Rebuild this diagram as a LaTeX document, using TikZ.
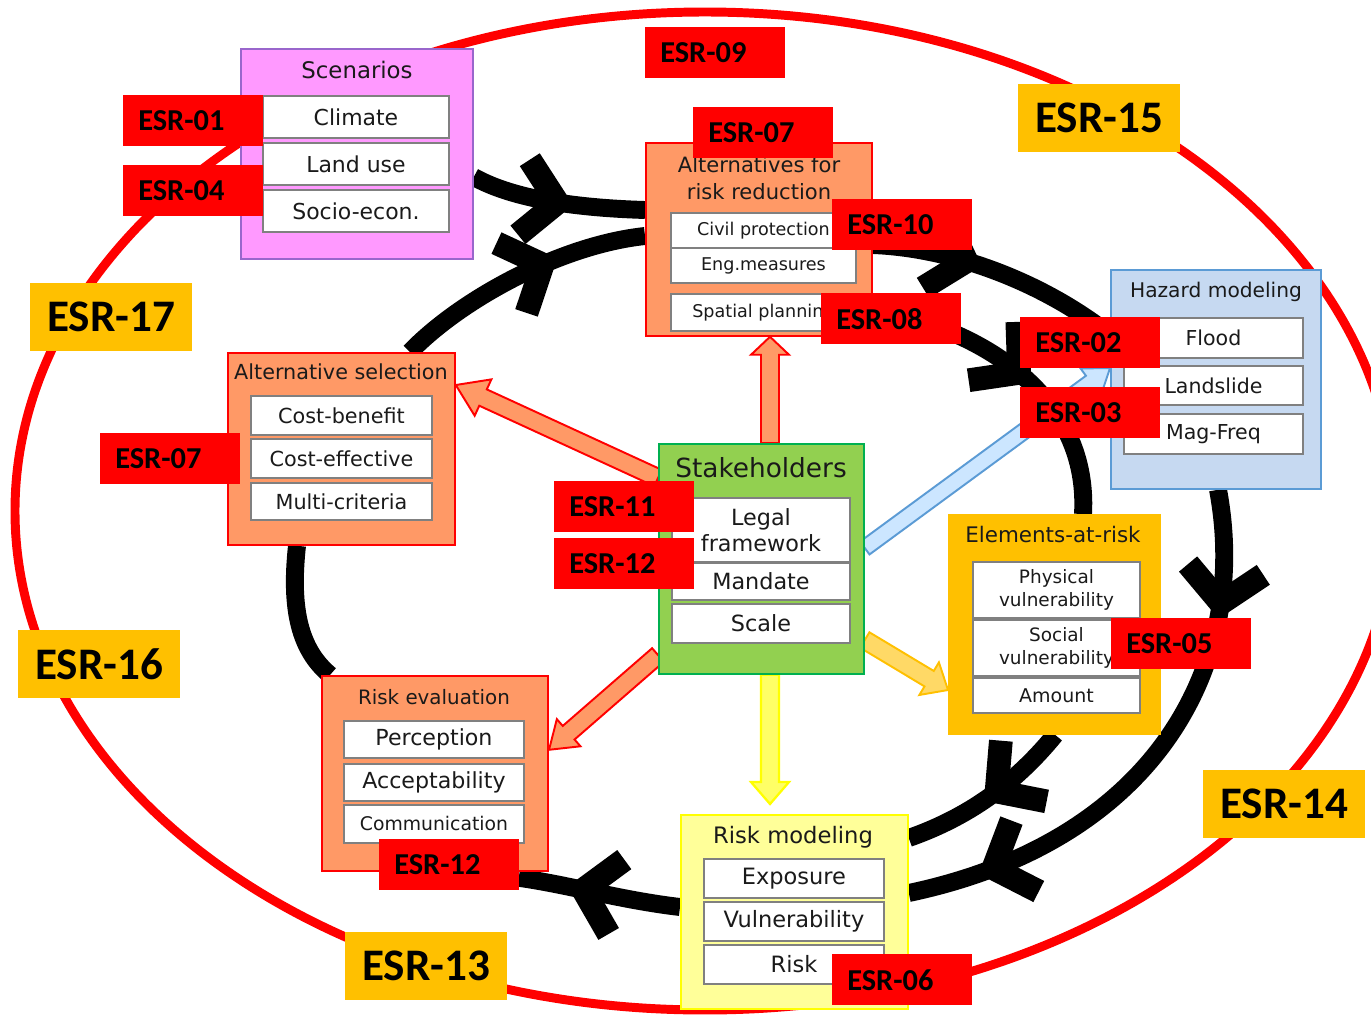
\documentclass[tikz,border=0pt]{standalone}
\usepackage{fontspec}
\setmainfont{DejaVu Sans}
\newfontfamily\esrfont{Carlito}
\usetikzlibrary{decorations.markings,calc}
\pgfdeclarelayer{back}
\pgfsetlayers{back,main}

\definecolor{esrred}{HTML}{FF0000}
\definecolor{esrgold}{HTML}{FFC000}
\definecolor{scenfill}{HTML}{FF99FF}
\definecolor{scendraw}{HTML}{9966CC}
\definecolor{boxorange}{HTML}{FF9966}
\definecolor{hzfill}{HTML}{C6D9F1}
\definecolor{hzdraw}{HTML}{5B9BD5}
\definecolor{stkfill}{HTML}{92D050}
\definecolor{stkdraw}{HTML}{00B050}
\definecolor{rmfill}{HTML}{FFFF99}
\definecolor{rmdraw}{HTML}{FFFF00}
\definecolor{subdraw}{HTML}{808080}
\definecolor{txt}{HTML}{1A1A1A}
\definecolor{bluefill}{HTML}{CCE6FF}
\definecolor{goldlight}{HTML}{FFD966}
\definecolor{yelfill}{HTML}{FFFF66}

% one pixel of the layout grid
\def\upx{0.02cm}
\newcommand\fs[2]{\fontsize{#1pt}{#2pt}\selectfont}

% block arrow from #1 to #2, style #3, shaft half width #4, head half width #5, head length #6 (grid units)
\newcommand\blockarrow[6]{%
  \path let \p1=(#1), \p2=(#2) in
    \pgfextra{\pgfmathsetmacro\baang{atan2(\y2-\y1,\x2-\x1)}%
              \pgfmathsetmacro\balen{veclen(\x2-\x1,\y2-\y1)}%
              \global\let\baangG\baang \global\let\balenG\balen};
  \begin{scope}[shift={(#1)}, rotate=\baangG]
    \draw[#3, line join=miter] (0pt,{#4*\upx}) -- ({\balenG*1pt-#6*\upx},{#4*\upx})
      -- ({\balenG*1pt-#6*\upx},{#5*\upx}) -- ({\balenG*1pt},0pt)
      -- ({\balenG*1pt-#6*\upx},{-#5*\upx}) -- ({\balenG*1pt-#6*\upx},{-#4*\upx})
      -- (0pt,{-#4*\upx}) -- cycle;
  \end{scope}}

\tikzset{
  panel/.style={draw, line width=1pt, anchor=north west, inner sep=0pt},
  subcell/.style={draw=subdraw, fill=white, line width=1.1pt, anchor=north west,
    inner sep=0pt, align=center, text=txt},
  ttl/.style={text=txt, inner sep=0pt, align=center},
  esr/.style={fill=esrred, anchor=north west, inner xsep=8.5pt, inner ysep=0pt,
    text width=62.4pt, minimum height=28.9pt, align=left,
    font=\esrfont\bfseries\fs{17.3}{20}},
  esrbig/.style={fill=esrgold, anchor=north west, inner sep=0pt,
    minimum width=91.8pt, minimum height=38.6pt,
    font=\esrfont\bfseries\fs{25.7}{30}},
  ringline/.style={line width=10.2pt, line cap=butt},
  chev/.style={line width=13.5pt, line join=miter, line cap=butt},
  chevat/.style={postaction={decorate, decoration={markings,
    mark=at position #1 with {\draw[chev] (-34,38) -- (0,0) -- (-34,-38);}}}},
  orarrow/.style={fill=boxorange, draw=esrred, line width=1.1pt},
  bluearrow/.style={fill=bluefill, draw=hzdraw, line width=1.1pt},
  goldarrow/.style={fill=goldlight, draw=esrgold, line width=1.1pt},
  yelarrow/.style={fill=yelfill, draw=rmdraw, line width=1.3pt},
}

\begin{document}
\begin{tikzpicture}[x=0.02cm, y=-0.02cm]
\useasboundingbox (0,0) rectangle (1371,1017);

% ---------- Scenarios ----------
\node[panel, fill=scenfill, draw=scendraw, minimum width={232*\upx}, minimum height={210*\upx}] (scen) at (240,48) {};
\node[ttl, font=\fs{13}{16}] (scenT) at (357,70) {Scenarios};
\node[subcell, minimum width={186*\upx}, minimum height={42*\upx}, font=\fs{12.5}{15}] (scen1) at (262,95) {Climate};
\node[subcell, minimum width={186*\upx}, minimum height={42*\upx}, font=\fs{12.5}{15}] (scen2) at (262,142) {Land use};
\node[subcell, minimum width={186*\upx}, minimum height={42*\upx}, font=\fs{12.5}{15}] (scen3) at (262,189) {Socio-econ.};

% ---------- Alternatives for risk reduction ----------
\node[panel, fill=boxorange, draw=esrred, minimum width={226*\upx}, minimum height={193*\upx}] (altr) at (645,142) {};
\node[ttl, font=\fs{12}{15.3}] (altrT) at (759,178) {Alternatives for\\risk reduction};
\node[subcell, minimum width={185*\upx}, minimum height={35*\upx}, font=\fs{10}{12}] (altr1) at (670,212) {Civil protection};
\node[subcell, minimum width={185*\upx}, minimum height={35*\upx}, font=\fs{10}{12}] (altr2) at (670,247) {Eng.measures};
\node[subcell, minimum width={185*\upx}, minimum height={37*\upx}, font=\fs{10}{12}] (altr3) at (670,293) {Spatial planning};

% ---------- Hazard modeling ----------
\node[panel, fill=hzfill, draw=hzdraw, minimum width={210*\upx}, minimum height={219*\upx}] (hz) at (1110,269) {};
\node[ttl, font=\fs{11.5}{14}] (hzT) at (1216,292) {Hazard modeling};
\node[subcell, minimum width={179*\upx}, minimum height={40*\upx}, font=\fs{11.7}{14}] (hz1) at (1123,317) {Flood};
\node[subcell, minimum width={179*\upx}, minimum height={39*\upx}, font=\fs{11.7}{14}] (hz2) at (1123,365) {Landslide};
\node[subcell, minimum width={179*\upx}, minimum height={40*\upx}, font=\fs{11.7}{14}] (hz3) at (1123,413) {Mag-Freq};

% ---------- Alternative selection ----------
\node[panel, fill=boxorange, draw=esrred, minimum width={227*\upx}, minimum height={192*\upx}] (asel) at (227,352) {};
\node[ttl, font=\fs{11.8}{14}] (aselT) at (341,372) {Alternative selection};
\node[subcell, minimum width={181*\upx}, minimum height={39*\upx}, font=\fs{11.8}{14}] (asel1) at (250,395) {Cost-benefit};
\node[subcell, minimum width={181*\upx}, minimum height={39*\upx}, font=\fs{11.8}{14}] (asel2) at (250,438) {Cost-effective};
\node[subcell, minimum width={181*\upx}, minimum height={37*\upx}, font=\fs{11.8}{14}] (asel3) at (250,482) {Multi-criteria};

% ---------- Stakeholders ----------
\node[panel, fill=stkfill, draw=stkdraw, minimum width={205*\upx}, minimum height={230*\upx}] (stk) at (658,443) {};
\node[ttl, font=\fs{15}{18}] (stkT) at (761,468) {Stakeholders};
\node[subcell, minimum width={178*\upx}, minimum height={64*\upx}, font=\fs{12.7}{14.7}] (stk1) at (671,497) {Legal\\framework};
\node[subcell, minimum width={178*\upx}, minimum height={37*\upx}, font=\fs{12.7}{15}] (stk2) at (671,562) {Mandate};
\node[subcell, minimum width={178*\upx}, minimum height={39*\upx}, font=\fs{12.7}{15}] (stk3) at (671,603) {Scale};

% ---------- Elements-at-risk ----------
\node[panel, fill=esrgold, draw=esrgold, minimum width={211*\upx}, minimum height={219*\upx}] (elr) at (948,514) {};
\node[ttl, font=\fs{12.2}{15}] (elrT) at (1053,535) {Elements-at-risk};
\node[subcell, minimum width={167*\upx}, minimum height={56*\upx}, font=\fs{10.5}{13}] (elr1) at (972,561) {Physical\\vulnerability};
\node[subcell, minimum width={167*\upx}, minimum height={56*\upx}, font=\fs{10.5}{13}] (elr2) at (972,619) {Social\\vulnerability};
\node[subcell, minimum width={167*\upx}, minimum height={35*\upx}, font=\fs{10.8}{13}] (elr3) at (972,677) {Amount};

% ---------- Risk evaluation ----------
\node[panel, fill=boxorange, draw=esrred, minimum width={226*\upx}, minimum height={195*\upx}] (rev) at (321,675) {};
\node[ttl, font=\fs{11.3}{14}] (revT) at (434,697) {Risk evaluation};
\node[subcell, minimum width={180*\upx}, minimum height={37*\upx}, font=\fs{12.6}{15}] (rev1) at (343,720) {Perception};
\node[subcell, minimum width={180*\upx}, minimum height={37*\upx}, font=\fs{12.6}{15}] (rev2) at (343,763) {Acceptability};
\node[subcell, minimum width={180*\upx}, minimum height={38*\upx}, font=\fs{10.7}{13}] (rev3) at (343,804) {Communication};

% ---------- Risk modeling ----------
\node[panel, fill=rmfill, draw=rmdraw, minimum width={227*\upx}, minimum height={194*\upx}] (rmod) at (680,814) {};
\node[ttl, font=\fs{12.9}{15}] (rmodT) at (793,837) {Risk modeling};
\node[subcell, minimum width={180*\upx}, minimum height={39*\upx}, font=\fs{12.8}{15}] (rmod1) at (703,858) {Exposure};
\node[subcell, minimum width={180*\upx}, minimum height={39*\upx}, font=\fs{12.8}{15}] (rmod2) at (703,901) {Vulnerability};
\node[subcell, minimum width={180*\upx}, minimum height={39*\upx}, font=\fs{12.8}{15}] (rmod3) at (703,944) {Risk};

% ---------- ESR tags ----------
\node[esr] (e01) at (123,95) {ESR-01};
\node[esr] (e04) at (123,165) {ESR-04};
\node[esr] (e09) at (645,27) {ESR-09};
\node[esr] (e07a) at (693,107) {ESR-07};
\node[esr] (e10) at (832,199) {ESR-10};
\node[esr] (e08) at (821,293) {ESR-08};
\node[esr] (e02) at (1020,317) {ESR-02};
\node[esr] (e03) at (1020,387) {ESR-03};
\node[esr] (e07b) at (100,433) {ESR-07};
\node[esr] (e11) at (554,481) {ESR-11};
\node[esr] (e12a) at (554,538) {ESR-12};
\node[esr] (e05) at (1111,618) {ESR-05};
\node[esr] (e12b) at (379,839) {ESR-12};
\node[esr] (e06) at (832,954) {ESR-06};

\node[esrbig] (e15) at (1018,84) {ESR-15};
\node[esrbig] (e17) at (30,283) {ESR-17};
\node[esrbig] (e16) at (18,630) {ESR-16};
\node[esrbig] (e14) at (1203,770) {ESR-14};
\node[esrbig] (e13) at (345,932) {ESR-13};

% ---------- connectors, drawn underneath ----------
\begin{pgfonlayer}{back}
\fill[white] (0,0) rectangle (1371,1017);
\draw[esrred, line width=5.1pt] (705,511) ellipse [x radius=690, y radius=499];

% outer cycle
\draw[ringline, chevat=0.5] (scen.east |- 0,177) .. controls (515,200) and (580,208) .. (altr.west |- 0,210);
\draw[ringline, chevat=0.37] (altr.east |- 0,245) .. controls (950,248) and (1040,280) .. (hz.west |- 0,335);
\draw[ringline, chevat=0.2, chevat=0.845] (1218,0 |- hz.south) .. controls (1250,660) and (1160,840) .. (rmod.east |- 0,893);

% inner cycle
\draw[ringline, chevat=0.6] (410,0 |- asel.north) .. controls (460,300) and (560,245) .. (altr.west |- 0,236);
\draw[ringline, chevat=0.5] (altr.east |- 0,310) .. controls (970,325) and (1090,390) .. (1083,0 |- elr.north);
\draw[ringline, chevat=0.45] (1055,0 |- elr.south) .. controls (1010,790) and (960,820) .. (rmod.east |- 0,838);
\draw[ringline, chevat=0.6] (rmod.west |- 0,907) .. controls (620,900) and (570,885) .. ($(rev.south east)+(-30,6)$);
\draw[ringline] (297,0 |- asel.south) .. controls (290,610) and (300,650) .. (330,0 |- rev.north);

% arrows out of the stakeholders box
\blockarrow{770,0 |- stk.north}{770,0 |- altr.south}{orarrow}{9}{19}{18}
\blockarrow{stk.west |- 0,478}{asel.east |- 0,385}{orarrow}{9}{20}{30}
\blockarrow{stk.west |- 0,655}{rev.east |- 0,750}{orarrow}{9}{18}{26}
\blockarrow{stk.east |- 0,548}{hz.west |- 0,368}{bluearrow}{8}{17}{24}
\blockarrow{stk.east |- 0,640}{elr.west |- 0,690}{goldarrow}{9}{19}{22}
\blockarrow{770,0 |- stk.south}{770,804}{yelarrow}{9}{19}{22}
\end{pgfonlayer}
\end{tikzpicture}
\end{document}
